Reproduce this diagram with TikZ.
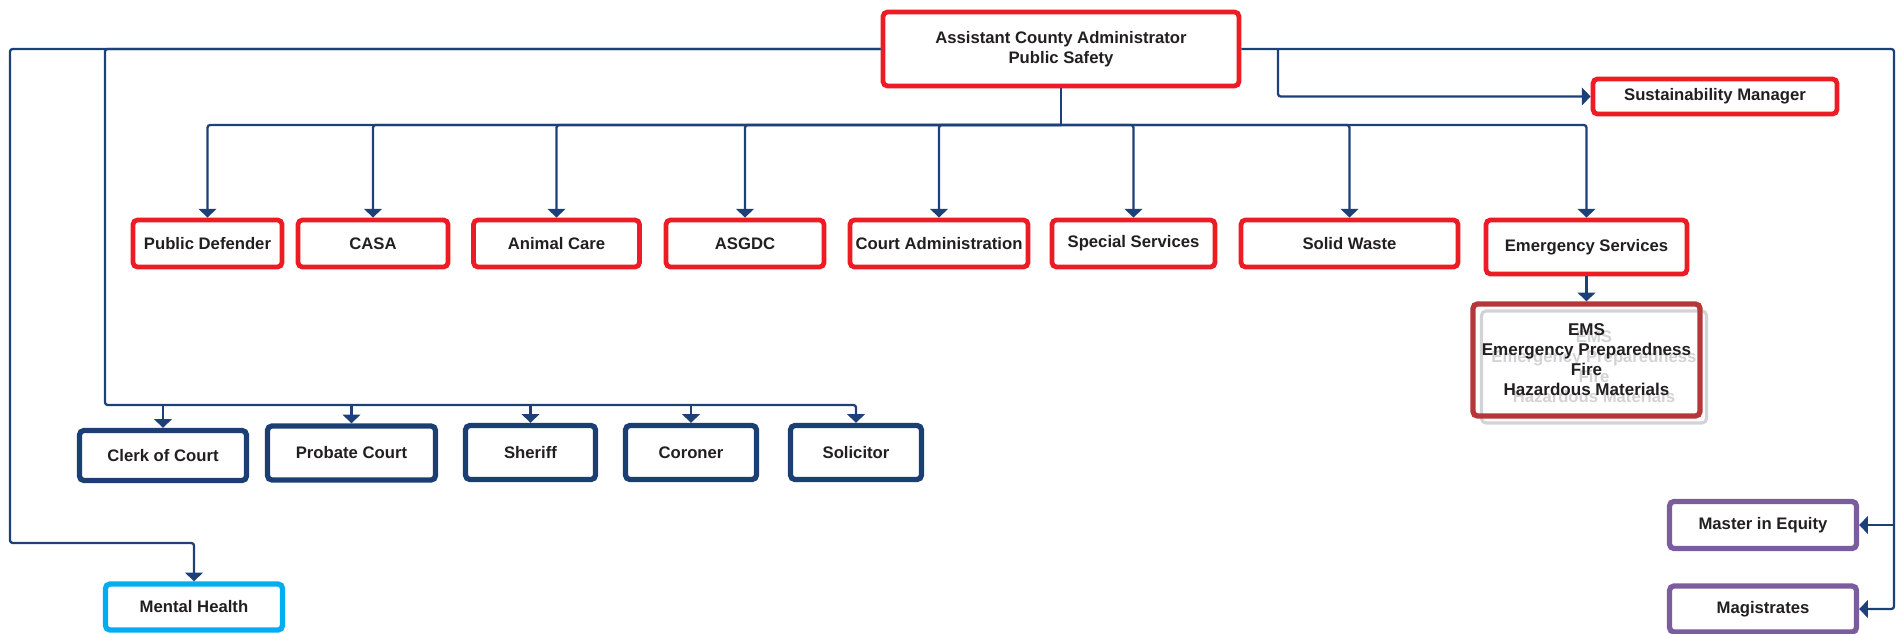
\documentclass[tikz,border=0pt]{standalone}
\usepackage{fontspec}
\setmainfont{Liberation Sans}
\usepackage{tikz}
\usetikzlibrary{arrows.meta, calc}
\definecolor{OrgRed}{HTML}{ED1C24}
\definecolor{OrgNavy}{HTML}{1B3F73}
\definecolor{OrgLine}{HTML}{1E4078}
\definecolor{OrgPurple}{HTML}{7B5C9E}
\definecolor{OrgCyan}{HTML}{00AEEF}
\definecolor{OrgBrick}{HTML}{B5373A}
\definecolor{OrgText}{HTML}{231F20}
\definecolor{OrgGhost}{HTML}{D2D3D5}
\tikzset{
    unitbox/.style={
        draw=#1,
        line width=2.7pt,
        rounded corners=2.5pt,
        fill=white,
        text=OrgText,
        font=\fontsize{9.5}{11.4}\selectfont\bfseries,
        align=center,
        inner sep=0pt
    },
    unitbox/.default=OrgRed,
    link/.style={
        draw=OrgLine,
        line width=1.3pt,
        rounded corners=1.5pt
    },
    linkarrow/.style={
        link,
        -{Triangle[length=5pt,width=10pt]}
    }
}

\begin{document}
\begin{tikzpicture}[x=0.02cm, y=-0.02cm]
        \useasboundingbox (0,0) rectangle (1897,634);

        % head of the division
        \node[unitbox, minimum width=7.12cm, minimum height=1.48cm] (admin) at (1061,49)
            {Assistant County Administrator\\Public Safety};
        \node[unitbox, minimum width=4.88cm, minimum height=0.70cm] (sustain) at (1715,96.5)
            {Sustainability Manager};

        % departments
        \node[unitbox, minimum width=2.98cm, minimum height=0.94cm] (pubdef) at (207.5,243.5) {Public Defender};
        \node[unitbox, minimum width=3.00cm, minimum height=0.94cm] (casa) at (373,243.5) {CASA};
        \node[unitbox, minimum width=3.32cm, minimum height=0.94cm] (animal) at (556.5,243.5) {Animal Care};
        \node[unitbox, minimum width=3.16cm, minimum height=0.94cm] (asgdc) at (745,243.5) {ASGDC};
        \node[unitbox, minimum width=3.56cm, minimum height=0.94cm] (courtadm) at (939,243.5) {Court Administration};
        \node[unitbox, minimum width=3.26cm, minimum height=0.94cm] (special) at (1133.5,243.5) {Special Services};
        \node[unitbox, minimum width=4.34cm, minimum height=0.94cm] (solid) at (1349.5,243.5) {Solid Waste};
        \node[unitbox, minimum width=4.02cm, minimum height=1.08cm] (emerg) at (1586.5,247) {Emergency Services};

        % emergency divisions (with its faded copy behind)
        \node[unitbox=OrgGhost, text=OrgGhost, line width=1.8pt, minimum width=4.50cm, minimum height=2.24cm]
            (emsghost) at (1594,367) {EMS\\Emergency Preparedness\\Fire\\Hazardous Materials};
        \node[unitbox=OrgBrick, fill=none, line width=3pt, minimum width=4.54cm, minimum height=2.24cm,
            font=\fontsize{9.7}{11.4}\selectfont\bfseries] (ems) at (1586.5,360)
            {EMS\\Emergency Preparedness\\Fire\\Hazardous Materials};

        % elected offices
        \node[unitbox=OrgNavy, line width=3pt, minimum width=3.34cm, minimum height=1.00cm] (clerk) at (163,455.5) {Clerk of Court};
        \node[unitbox=OrgNavy, line width=3pt, minimum width=3.36cm, minimum height=1.08cm] (probate) at (351.5,453) {Probate Court};
        \node[unitbox=OrgNavy, line width=3pt, minimum width=2.60cm, minimum height=1.08cm] (sheriff) at (530.5,452.5) {Sheriff};
        \node[unitbox=OrgNavy, line width=3pt, minimum width=2.62cm, minimum height=1.08cm] (coroner) at (691,452.5) {Coroner};
        \node[unitbox=OrgNavy, line width=3pt, minimum width=2.62cm, minimum height=1.08cm] (solicitor) at (856,452.5) {Solicitor};

        % courts and health
        \node[unitbox=OrgPurple, line width=3pt, minimum width=3.74cm, minimum height=0.94cm] (master) at (1763,525) {Master in Equity};
        \node[unitbox=OrgPurple, line width=3pt, minimum width=3.74cm, minimum height=0.92cm] (magist) at (1763,609) {Magistrates};
        \node[unitbox=OrgCyan, line width=3pt, minimum width=3.54cm, minimum height=0.92cm] (mental) at (194,607) {Mental Health};

        % connectors
        \coordinate (deptbus) at (1061,125);
        \coordinate (electbus) at (105,405);
        \coordinate (leftturn) at (10,543);
        \coordinate (rightdrop) at (1894,525);
        \coordinate (sustbranch) at (1278,49);

        \draw[link] (admin.south) -- (deptbus);
        \foreach \dept in {pubdef,casa,animal,asgdc,courtadm,special,solid,emerg}
            \draw[linkarrow] (deptbus) -| (\dept.north);
        \draw[linkarrow] (emerg.south) -- (ems.north);

        \draw[linkarrow] (sustbranch) |- (sustain.west);
        \draw[linkarrow] (admin.east) -| (rightdrop) |- (magist.east);
        \draw[linkarrow] (rightdrop) -- (master.east);

        \draw[linkarrow] (admin.west) -| (leftturn) -| (mental.north);
        \draw[linkarrow] (admin.west) -| (electbus) -| (solicitor.north);
        \foreach \office in {clerk,probate,sheriff,coroner}
            \draw[linkarrow] (electbus -| \office.north) -- (\office.north);
    \end{tikzpicture}
\end{document}
